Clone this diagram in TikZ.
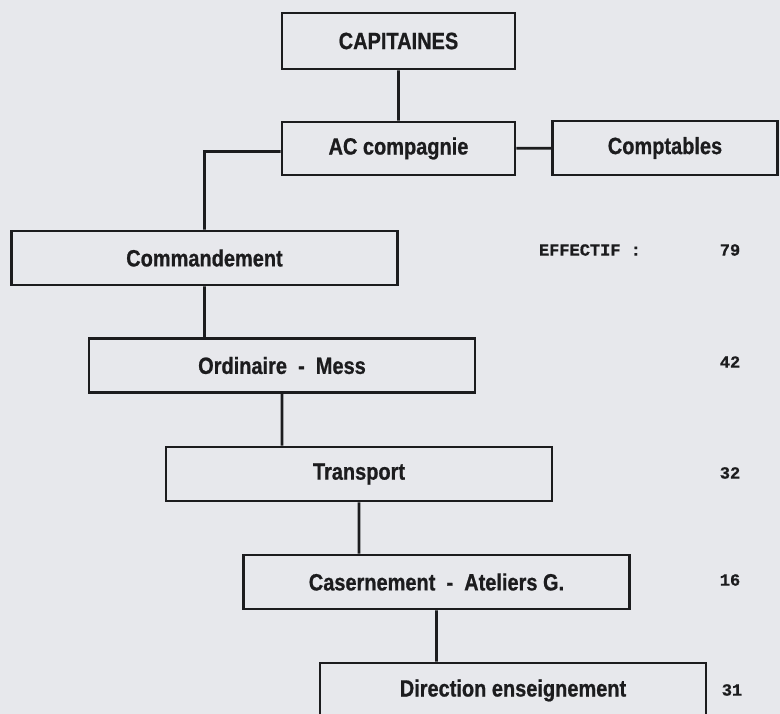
\documentclass[tikz,border=0pt]{standalone}
\usepackage{fontspec}
\newfontfamily\boxfont[FakeStretch=0.85,BoldFeatures={FakeStretch=0.85,FakeBold=0.8}]{Liberation Sans}
\newfontfamily\chiffres[BoldFeatures={FakeBold=0.6}]{Liberation Mono}
\usepackage{tikz}
\usetikzlibrary{positioning}
\definecolor{paper}{RGB}{231,232,236}
\definecolor{ink}{RGB}{28,28,30}

\begin{document}
\begin{tikzpicture}[x=1pt,y=-1pt,line width=2.6pt,
    service/.style={draw=ink,minimum width=386pt,minimum height=54pt,inner sep=0pt,
      font=\boxfont\bfseries\fontsize{23.5}{24}\selectfont,text=ink},
    chef/.style={service,minimum width=233pt},
    effectif/.style={font=\chiffres\bfseries\fontsize{17}{20}\selectfont,text=ink}]
    \clip (0,0) rectangle (780,714);
    \fill[paper] (0,0) rectangle (780,714);

    \node[chef,minimum height=56pt] (cap) at (398.5,41) {CAPITAINES};
    \node[chef,minimum height=53pt] (ac) at (398.5,148.5) {AC compagnie};
    \node[service,minimum width=225pt] (compta) at (665,148) {Comptables};
    \node[service] (cmd) at (204.5,258) {Commandement};
    \node[service] (ord) at (282,365.5) {Ordinaire \ - \ Mess};
    \node[service] (trans) at (359,474) {Transport};
    \node[service] (cas) at (436.5,582) {Casernement \ - \ Ateliers G.};
    \node[service,minimum height=55pt] (dir) at (513,690.5) {Direction enseignement};

    \node[effectif] (eff) at (590,250) {EFFECTIF :};
    \node[effectif] (n79) at (730,250) {79};
    \node[effectif] (n42) at (730,362) {42};
    \node[effectif] (n32) at (730,473) {32};
    \node[effectif] (n16) at (730,580) {16};
    \node[effectif] (n31) at (732,690) {31};

    \draw[ink]
    (cap) -- (ac)
    (ac) -- (compta)
    ([yshift=-3pt]ac.west) -| (cmd.north)

    (cmd.south) -- (cmd.south |- ord.north)
    (ord.south) -- (ord.south |- trans.north)
    (trans.south) -- (trans.south |- cas.north)
    (cas.south) -- (cas.south |- dir.north)
    ;
\end{tikzpicture}
\end{document}
